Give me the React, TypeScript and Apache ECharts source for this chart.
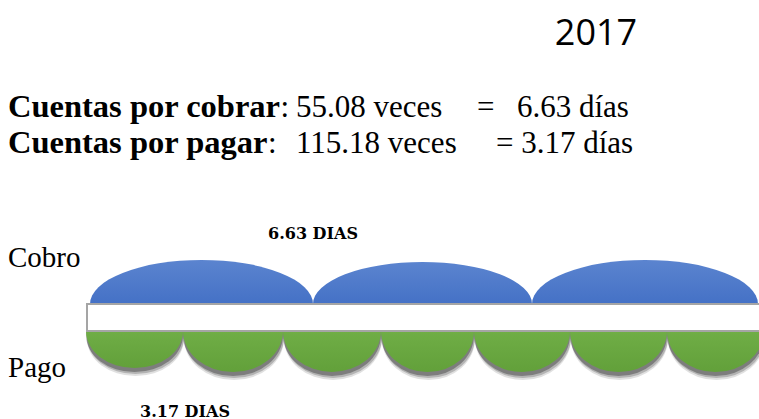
import React, { useEffect, useRef } from "react";
import * as echarts from "echarts";

// ---- data ----
const year = "2017";
const cobroVeces = 55.08;
const cobroDias = 6.63;
const pagoVeces = 115.18;
const pagoDias = 3.17;
const rowLabels = ["Cobro", "Pago"];

// arcs: [start, end, height] in axis units (x from bar start, y from bar centre)
const cobroArcs: number[][] = [
  [4, 227, 58],
  [227, 446, 56],
  [446, 672, 58],
];
const pagoArcs: number[][] = [
  [0, 97, -50],
  [97, 197, -54],
  [197, 295, -54],
  [295, 388, -54],
  [388, 484, -54],
  [484, 581, -54],
  [581, 678, -54],
];
const bandData: number[][] = [[0, 700, -13, 14]];

export default function App() {
  const ref = useRef<HTMLDivElement>(null);
  useEffect(() => {
    if (!ref.current) return;
    const chart = echarts.init(ref.current, null, { renderer: "svg" });

    const arcPath = (api: any, baseOffset: number, dx = 0, dy = 0) => {
      const x0 = api.value(0);
      const x1 = api.value(1);
      const h = api.value(2);
      const sign = h > 0 ? 1 : -1;
      const pStart = api.coord([x0, 0]);
      const pEnd = api.coord([x1, 0]);
      const pBase = api.coord([x0, baseOffset * sign]);
      const pTop = api.coord([x0, h]);
      const rx = (pEnd[0] - pStart[0]) / 2;
      const ry = Math.abs(pTop[1] - pBase[1]);
      const xa = pStart[0] + dx;
      const xb = pEnd[0] + dx;
      const yc = pStart[1] + dy;
      const yb = pBase[1] + dy;
      const sweep = sign > 0 ? 1 : 0;
      return (
        `M ${xa} ${yc} L ${xa} ${yb} ` +
        `A ${rx} ${ry} 0 0 ${sweep} ${xb} ${yb} L ${xb} ${yc} Z`
      );
    };

    const arcItem = (color: string[], baseOffset: number) => (params: any, api: any) => ({
      type: "path",
      shape: { pathData: arcPath(api, baseOffset) },
      style: {
        fill: new echarts.graphic.LinearGradient(0, 0, 0, 1, [
          { offset: 0, color: color[0] },
          { offset: 1, color: color[1] },
        ]),
      },
    });

    const shadowItem = (baseOffset: number) => (params: any, api: any) => ({
      type: "group",
      children: [
        {
          type: "path",
          shape: { pathData: arcPath(api, baseOffset, 1, 8) },
          style: { fill: "rgba(0,0,0,0.12)" },
        },
        {
          type: "path",
          shape: { pathData: arcPath(api, baseOffset, 1, 6) },
          style: { fill: "rgba(0,0,0,0.2)" },
        },
        {
          type: "path",
          shape: { pathData: arcPath(api, baseOffset, 0, 4) },
          style: { fill: "rgba(0,0,0,0.3)" },
        },
      ],
    });

    const serif = "'Liberation Serif', 'Times New Roman', serif";
    const textEl = (x: number, y: number, text: string, font: string, align = "left") => ({
      type: "text",
      x,
      y,
      style: { text, font, fill: "#000", textAlign: align, textVerticalAlign: "middle" },
    });
    const boldLabel = (y: number, label: string) => ({
      type: "text",
      x: 8,
      y,
      style: {
        text: `{b|${label}}:`,
        font: `31px ${serif}`,
        fill: "#000",
        textVerticalAlign: "middle",
        rich: { b: { fontWeight: "bold", fontSize: 32.5, fontFamily: serif } },
      },
    });

    chart.setOption({
      animation: false,
      grid: { left: 86, right: 0, top: 258, bottom: 41 },
      xAxis: { type: "value", min: 0, max: 673, show: false },
      yAxis: { type: "value", min: -60, max: 60, show: false },
      series: [
        {
          type: "custom",
          data: pagoArcs,
          clip: false,
          renderItem: shadowItem(13),
        },
        {
          type: "custom",
          data: pagoArcs,
          clip: false,
          renderItem: arcItem(["#74B24A", "#62A03A"], 13),
        },
        {
          type: "custom",
          data: cobroArcs,
          clip: false,
          renderItem: arcItem(["#5B84CF", "#3D6BC3"], 14),
        },
        {
          type: "custom",
          data: bandData,
          clip: false,
          renderItem: (params: any, api: any) => {
            const a = api.coord([api.value(0), api.value(3)]);
            const b = api.coord([api.value(1), api.value(2)]);
            return {
              type: "rect",
              shape: { x: a[0] + 1, y: a[1], width: b[0] - a[0], height: b[1] - a[1] },
              style: { fill: "#FFFFFF", stroke: "#A5A5A5", lineWidth: 2 },
            };
          },
        },
      ],
      graphic: [
        textEl(596, 31, year, "36px 'Open Sans', sans-serif", "center"),
        boldLabel(106, "Cuentas por cobrar"),
        textEl(296, 106, `${cobroVeces.toFixed(2)} veces`, `31px ${serif}`),
        textEl(477, 106, "=", `31px ${serif}`),
        textEl(517, 106, `${cobroDias.toFixed(2)} días`, `31px ${serif}`),
        boldLabel(142, "Cuentas por pagar"),
        textEl(296, 142, `${pagoVeces.toFixed(2)} veces`, `31px ${serif}`),
        textEl(496, 142, `= ${pagoDias.toFixed(2)} días`, `31px ${serif}`),
        textEl(8, 257, rowLabels[0], `29px ${serif}`),
        textEl(8, 367, rowLabels[1], `29px ${serif}`),
        textEl(313, 233, `${cobroDias.toFixed(2)} DIAS`, "bold 16px 'DejaVu Serif', serif", "center"),
        textEl(185, 411, `${pagoDias.toFixed(2)} DIAS`, "bold 16px 'DejaVu Serif', serif", "center"),
      ],
    });
    return () => chart.dispose();
  }, []);
  return (
    <div
      ref={ref}
      style={{ position: "fixed", left: 0, top: 0, width: 759, height: 419, background: "#fff" }}
    />
  );
}
